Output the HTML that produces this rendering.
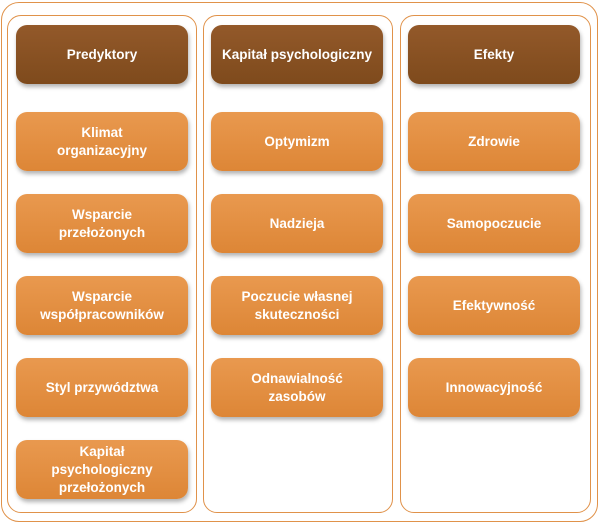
<html><head><style>
body{margin:0;width:600px;height:525px;background:#fff;position:relative;font-family:"Liberation Sans",sans-serif;overflow:hidden}
.o{position:absolute;border:1.5px solid #e0924a;border-radius:14px;box-sizing:border-box}
.b{position:absolute;width:172px;height:59px;border-radius:11px;background:linear-gradient(#e9994f,#dd8636);color:#fff;font-weight:bold;font-size:13.5px;display:flex;align-items:center;justify-content:center;text-align:center;line-height:18px;box-shadow:1px 3px 4px rgba(0,0,0,.3)}
.h{background:linear-gradient(#93592a,#7e4a1c)}
</style></head><body>
<div class="o" style="left:1px;top:2px;width:597px;height:520px;border-radius:18px"></div>
<div class="o" style="left:7px;top:15px;width:190px;height:498px"></div>
<div class="o" style="left:203px;top:15px;width:190px;height:498px"></div>
<div class="o" style="left:400px;top:15px;width:191px;height:498px"></div>
<div class="b h" style="left:16px;top:25px">Predyktory</div>
<div class="b" style="left:16px;top:112px">Klimat<br>organizacyjny</div>
<div class="b" style="left:16px;top:194px">Wsparcie<br>przełożonych</div>
<div class="b" style="left:16px;top:276px">Wsparcie<br>współpracowników</div>
<div class="b" style="left:16px;top:358px">Styl przywództwa</div>
<div class="b" style="left:16px;top:440px">Kapitał<br>psychologiczny<br>przełożonych</div>
<div class="b h" style="left:211px;top:25px">Kapitał psychologiczny</div>
<div class="b" style="left:211px;top:112px">Optymizm</div>
<div class="b" style="left:211px;top:194px">Nadzieja</div>
<div class="b" style="left:211px;top:276px">Poczucie własnej<br>skuteczności</div>
<div class="b" style="left:211px;top:358px">Odnawialność<br>zasobów</div>
<div class="b h" style="left:408px;top:25px">Efekty</div>
<div class="b" style="left:408px;top:112px">Zdrowie</div>
<div class="b" style="left:408px;top:194px">Samopoczucie</div>
<div class="b" style="left:408px;top:276px">Efektywność</div>
<div class="b" style="left:408px;top:358px">Innowacyjność</div>
</body></html>
